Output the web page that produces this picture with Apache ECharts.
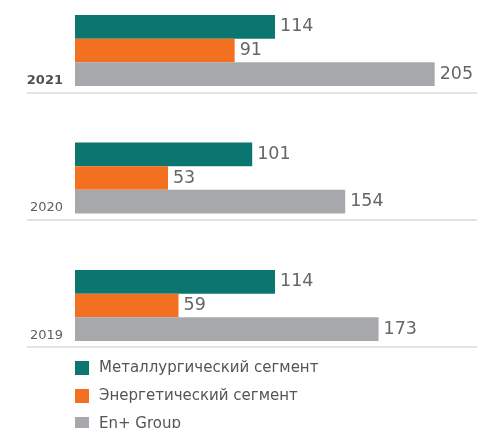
<!DOCTYPE html>
<html><head><meta charset="utf-8">
<script src="https://cdn.jsdelivr.net/npm/echarts@6/dist/echarts.min.js"></script>
<style>html,body{margin:0;padding:0;background:#fff}#c{width:477px;height:428px}</style>
</head><body><div id="c"></div>
<script>
var years = ['2021', '2020', '2019'];
var seriesNames = ['Металлургический сегмент', 'Энергетический сегмент', 'En+ Group'];
var metallurgy = [114, 101, 114];
var energy = [91, 53, 59];
var enplus = [205, 154, 173];
var colors = ['#0b766f', '#f37021', '#a7a8ac'];

var FONT = 'DejaVu Sans';
var chart = echarts.init(document.getElementById('c'), null, {renderer: 'canvas'});
function mk(name, data, color) {
  return {
    name: name, type: 'bar', data: data, xAxisIndex: 0, yAxisIndex: 0,
    barWidth: 23.7, barGap: '0%', clip: false,
    itemStyle: {color: color},
    label: {show: true, position: 'right', distance: 5, color: '#666',
      fontFamily: FONT, fontSize: 17.5, fontWeight: 'normal'}
  };
}
function lg(i, top) {
  return {
    orient: 'vertical', left: 75, top: top, itemWidth: 14, itemHeight: 14,
    icon: 'rect', padding: 0, data: [seriesNames[i]],
    textStyle: {fontFamily: FONT, fontSize: 15, color: '#555', lineHeight: 14, padding: [0, 0, 0, 5]}
  };
}
chart.setOption({
  animation: false,
  textStyle: {fontFamily: FONT},
  grid: [
    {left: 75, right: 16, top: 50.5, height: 255, containLabel: false},
    {left: 27, right: 0, top: 93, height: 254, containLabel: false}
  ],
  xAxis: [
    {type: 'value', gridIndex: 0, min: 0, max: 220, show: false},
    {type: 'value', gridIndex: 1, min: 0, max: 1, show: false}
  ],
  yAxis: [
    {type: 'category', gridIndex: 0, data: years, inverse: true, boundaryGap: false,
      axisLine: {show: false}, axisTick: {show: false}, splitLine: {show: false},
      axisLabel: {margin: 12, padding: [60, 0, 0, 0], fontFamily: FONT, fontSize: 13,
        formatter: function (v, i) { return i === 0 ? '{b|' + v + '}' : '{n|' + v + '}'; },
        rich: {
          b: {fontFamily: FONT, fontSize: 13, fontWeight: 'bold', color: '#505050'},
          n: {fontFamily: FONT, fontSize: 13, fontWeight: 'normal', color: '#606060'}
        }}},
    {type: 'category', gridIndex: 1, data: years, inverse: true, boundaryGap: false,
      axisLine: {show: false}, axisTick: {show: false}, axisLabel: {show: false},
      splitLine: {show: true, lineStyle: {color: '#d8d8d8', width: 1.5}}}
  ],
  legend: [lg(0, 360.5), lg(1, 388.5), lg(2, 416.5)],
  series: [
    mk(seriesNames[0], metallurgy, colors[0]),
    mk(seriesNames[1], energy, colors[1]),
    mk(seriesNames[2], enplus, colors[2])
  ]
});
</script></body></html>
